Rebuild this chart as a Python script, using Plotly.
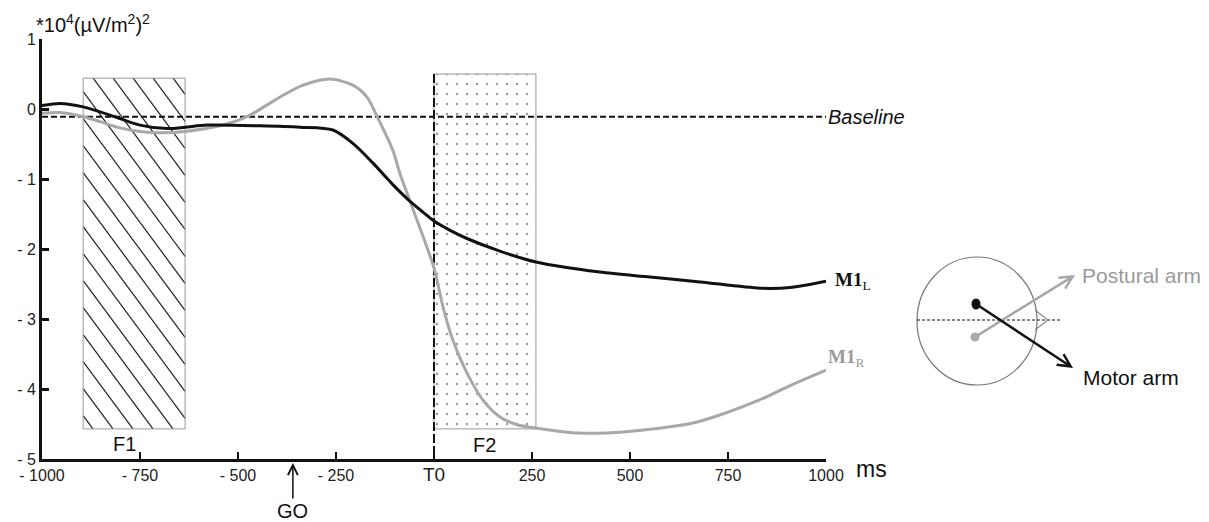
import plotly.graph_objects as go

# ---------------- data ----------------
time_m1l = [-1000, -954, -895, -814, -750, -681, -635, -579, -444, -342, -258, -207,
            -156, -105, -61, -18, 0, 40, 84, 168, 263, 423, 551, 679, 832, 908, 1000]
m1l_values = [0.05, 0.08, 0.03, -0.11, -0.23, -0.28, -0.26, -0.23, -0.24, -0.26, -0.30, -0.49,
              -0.77, -1.08, -1.32, -1.52, -1.60, -1.73, -1.85, -2.03, -2.19, -2.33, -2.40, -2.47,
              -2.56, -2.55, -2.46]

time_m1r = [-1000, -954, -895, -852, -801, -750, -699, -635, -546, -477, -393, -334, -265,
            -207, -171, -145, -105, -87, -61, 0, 23, 48, 84, 125, 168, 212, 263, 370, 490,
            658, 745, 829, 913, 1000]
m1r_values = [-0.06, -0.05, -0.11, -0.18, -0.27, -0.32, -0.34, -0.32, -0.24, -0.11, 0.17, 0.34, 0.43,
              0.34, 0.17, -0.11, -0.59, -0.92, -1.32, -2.27, -2.83, -3.30, -3.77, -4.16, -4.40, -4.51,
              -4.56, -4.63, -4.61, -4.49, -4.34, -4.16, -3.94, -3.73]

baseline_level = -0.11
f1_window = [-895, -635]
f1_levels = [-4.57, 0.44]
f2_window = [0, 260]
f2_levels = [-4.57, 0.5]
go_time = -360
m1r_label_level = -3.56

xtick_vals = [-1000, -750, -500, -250, 0, 250, 500, 750, 1000]
xtick_text = ["- 1000", "- 750", "- 500", "- 250",
              "<span style='font-size:19px'>T0</span>", "250", "500", "750", "1000"]
ytick_vals = [1, 0, -1, -2, -3, -4, -5]
ytick_text = ["1", "0", "- 1", "- 2", "- 3", "- 4", "- 5"]

# ---------------- page geometry ----------------
PAGE_W, PAGE_H = 1209, 522
BODY = 8                      # default page margin around the plot div
W, H = PAGE_W - BODY, PAGE_H - BODY
PLOT_L, PLOT_R, PLOT_T, PLOT_B = 42, 826, 39, 459   # in page pixels
X_RANGE = [xtick_vals[0], xtick_vals[-1]]
Y_RANGE = [ytick_vals[-1], ytick_vals[0]]


def px(x):
    """page pixel x -> paper fraction"""
    return (x - BODY) / W


def py(y):
    """page pixel y -> paper fraction"""
    return (H - (y - BODY)) / H


SANS = "Liberation Sans, Arial, sans-serif"
SERIF = "Liberation Serif, Times New Roman, serif"
GREY_LINE = "#a8a8a8"
GREY_TEXT = "#9a9a9a"

# scale factors (pixels per data unit) from the axis geometry
kx = (PLOT_R - PLOT_L) / (X_RANGE[1] - X_RANGE[0])
ky = (PLOT_B - PLOT_T) / (Y_RANGE[1] - Y_RANGE[0])

# hatch lines of the F1 window, computed from its bounds (screen slope 1.35, spacing 20 px)
hx, hy = [], []
bx0, bx1 = f1_window[0] * kx, f1_window[1] * kx
by_top, by_bot = -f1_levels[1] * ky, -f1_levels[0] * ky
slope, step = 1.35, 20.0
xt = bx0 + 10 - step * int((by_bot - by_top) / slope / step + 2)
while xt < bx1:
    xs = max(bx0, xt)
    xe = min(bx1, xt + (by_bot - by_top) / slope)
    if xs < xe:
        ys = by_top + slope * (xs - xt)
        ye = by_top + slope * (xe - xt)
        hx += [xs / kx, xe / kx, None]
        hy += [-ys / ky, -ye / ky, None]
    xt += step

fig = go.Figure()

fig.add_trace(go.Scatter(x=hx, y=hy, mode="lines", line=dict(color="#222222", width=1.2),
                         hoverinfo="skip", showlegend=False))
fig.add_trace(go.Scatter(
    x=[f1_window[0], f1_window[1], f1_window[1], f1_window[0], f1_window[0]],
    y=[f1_levels[0], f1_levels[0], f1_levels[1], f1_levels[1], f1_levels[0]],
    mode="lines", line=dict(color="#999999", width=1), hoverinfo="skip", showlegend=False))

# F2 dotted window
fig.add_trace(go.Scatter(
    x=[f2_window[0], f2_window[1], f2_window[1], f2_window[0], f2_window[0]],
    y=[f2_levels[0], f2_levels[0], f2_levels[1], f2_levels[1], f2_levels[0]],
    mode="lines", fill="toself", fillcolor="rgba(0,0,0,0)",
    fillpattern=dict(shape=".", size=10, solidity=0.05, fgcolor="#333333", bgcolor="rgba(0,0,0,0)"),
    line=dict(color="#999999", width=1), hoverinfo="skip", showlegend=False))

# baseline
fig.add_trace(go.Scatter(
    x=X_RANGE, y=[baseline_level, baseline_level],
    mode="lines", line=dict(color="#111111", width=2, dash="6px,3px"),
    hoverinfo="skip", showlegend=False))

# T0 vertical dashed line
fig.add_trace(go.Scatter(
    x=[0, 0], y=[f2_levels[1], Y_RANGE[0]],
    mode="lines", line=dict(color="#111111", width=2, dash="9px,3px"),
    hoverinfo="skip", showlegend=False))

# curves
fig.add_trace(go.Scatter(
    x=time_m1r, y=m1r_values, mode="lines",
    line=dict(color=GREY_LINE, width=3, shape="spline", smoothing=0.8),
    hoverinfo="skip", showlegend=False))
fig.add_trace(go.Scatter(
    x=time_m1l, y=m1l_values, mode="lines",
    line=dict(color="#111111", width=3, shape="spline", smoothing=0.8),
    hoverinfo="skip", showlegend=False))

annotations = [
    dict(x=px(34), y=py(23), xref="paper", yref="paper", xanchor="left", yanchor="middle",
         text="*10<sup>4</sup>(µV/m<sup>2</sup>)<sup>2</sup>", showarrow=False,
         font=dict(family=SANS, size=20, color="#111")),
    dict(x=X_RANGE[1], y=baseline_level, xref="x", yref="y", xanchor="left", yanchor="middle",
         xshift=0, text="<i>Baseline</i>", showarrow=False,
         font=dict(family=SANS, size=20, color="#111")),
    dict(x=X_RANGE[1], y=m1l_values[-1], xref="x", yref="y", xanchor="left", yanchor="middle",
         xshift=7, text="<b>M1</b><sub>L</sub>", showarrow=False,
         font=dict(family=SERIF, size=19, color="#111")),
    dict(x=X_RANGE[1], y=m1r_label_level, xref="x", yref="y", xanchor="left", yanchor="middle",
         xshift=0, text="<b>M1</b><sub>R</sub>", showarrow=False,
         font=dict(family=SERIF, size=19, color=GREY_TEXT)),
    dict(x=-790, y=-4.78, xref="x", yref="y", xanchor="center", yanchor="middle",
         text="F1", showarrow=False, font=dict(family=SANS, size=20, color="#111")),
    dict(x=130, y=-4.8, xref="x", yref="y", xanchor="center", yanchor="middle",
         text="F2", showarrow=False, font=dict(family=SANS, size=20, color="#111")),
    dict(x=px(854), y=py(469), xref="paper", yref="paper", xanchor="left", yanchor="middle",
         text="ms", showarrow=False, font=dict(family=SANS, size=23, color="#111")),
    dict(x=go_time, y=py(463), xref="x", yref="paper", text="GO", showarrow=True,
         ax=0, ay=48, arrowhead=5, arrowsize=1.3, arrowwidth=1.5, arrowcolor="#111",
         standoff=0, font=dict(family=SANS, size=20, color="#111")),
    # diagram arrows
    dict(x=px(1075), y=py(275), xref="paper", yref="paper", text="", showarrow=True,
         ax=-100, ay=62, arrowhead=5, arrowsize=1.0, arrowwidth=2.5, arrowcolor=GREY_LINE, standoff=0),
    dict(x=px(1073), y=py(368), xref="paper", yref="paper", text="", showarrow=True,
         ax=-97, ay=-64, arrowhead=5, arrowsize=1.0, arrowwidth=2.5, arrowcolor="#111", standoff=0),
    dict(x=px(1080), y=py(276), xref="paper", yref="paper", xanchor="left", yanchor="middle",
         text="Postural arm", showarrow=False, font=dict(family=SANS, size=21, color=GREY_TEXT)),
    dict(x=px(1081), y=py(377), xref="paper", yref="paper", xanchor="left", yanchor="middle",
         text="Motor arm", showarrow=False, font=dict(family=SANS, size=21, color="#111")),
]

shapes = [
    dict(type="circle", xref="paper", yref="paper", x0=px(917), x1=px(1037), y0=py(385), y1=py(257),
         line=dict(color="#777", width=1.2)),
    dict(type="line", xref="paper", yref="paper", x0=px(917), x1=px(1060), y0=py(320), y1=py(320),
         line=dict(color="#111", width=1, dash="3px,2px")),
    dict(type="path", xref="paper", yref="paper",
         path=f"M {px(1035)},{py(310)} L {px(1048)},{py(320)} L {px(1035)},{py(330)}",
         line=dict(color="#888", width=1.2)),
    dict(type="circle", xref="paper", yref="paper", x0=px(970.5), x1=px(979.5), y0=py(341.5), y1=py(332.5),
         fillcolor="#aaaaaa", line=dict(color="#aaaaaa", width=0)),
    dict(type="circle", xref="paper", yref="paper", x0=px(971.5), x1=px(980.5), y0=py(309.5), y1=py(298.5),
         fillcolor="#111111", line=dict(color="#111111", width=0)),
]

fig.update_layout(
    width=W, height=H,
    margin=dict(l=0, r=0, t=0, b=0, pad=0, autoexpand=False),
    paper_bgcolor="white", plot_bgcolor="white",
    showlegend=False,
    xaxis=dict(domain=[px(PLOT_L), px(PLOT_R)], range=X_RANGE, showgrid=False, zeroline=False,
               automargin=False,
               showline=True, linecolor="#111", linewidth=2.5,
               ticks="inside", ticklen=7, tickwidth=2, tickcolor="#111",
               tickvals=xtick_vals, ticktext=xtick_text,
               tickfont=dict(family=SANS, size=16, color="#222")),
    yaxis=dict(domain=[py(PLOT_B), py(PLOT_T)], range=Y_RANGE, showgrid=False, zeroline=False,
               automargin=False,
               showline=True, linecolor="#111", linewidth=3,
               ticks="inside", ticklen=7, tickwidth=2.5, tickcolor="#111",
               tickvals=ytick_vals, ticktext=ytick_text,
               tickfont=dict(family=SANS, size=16, color="#222")),
    annotations=annotations,
    shapes=shapes,
)

fig.write_html("out.html")
